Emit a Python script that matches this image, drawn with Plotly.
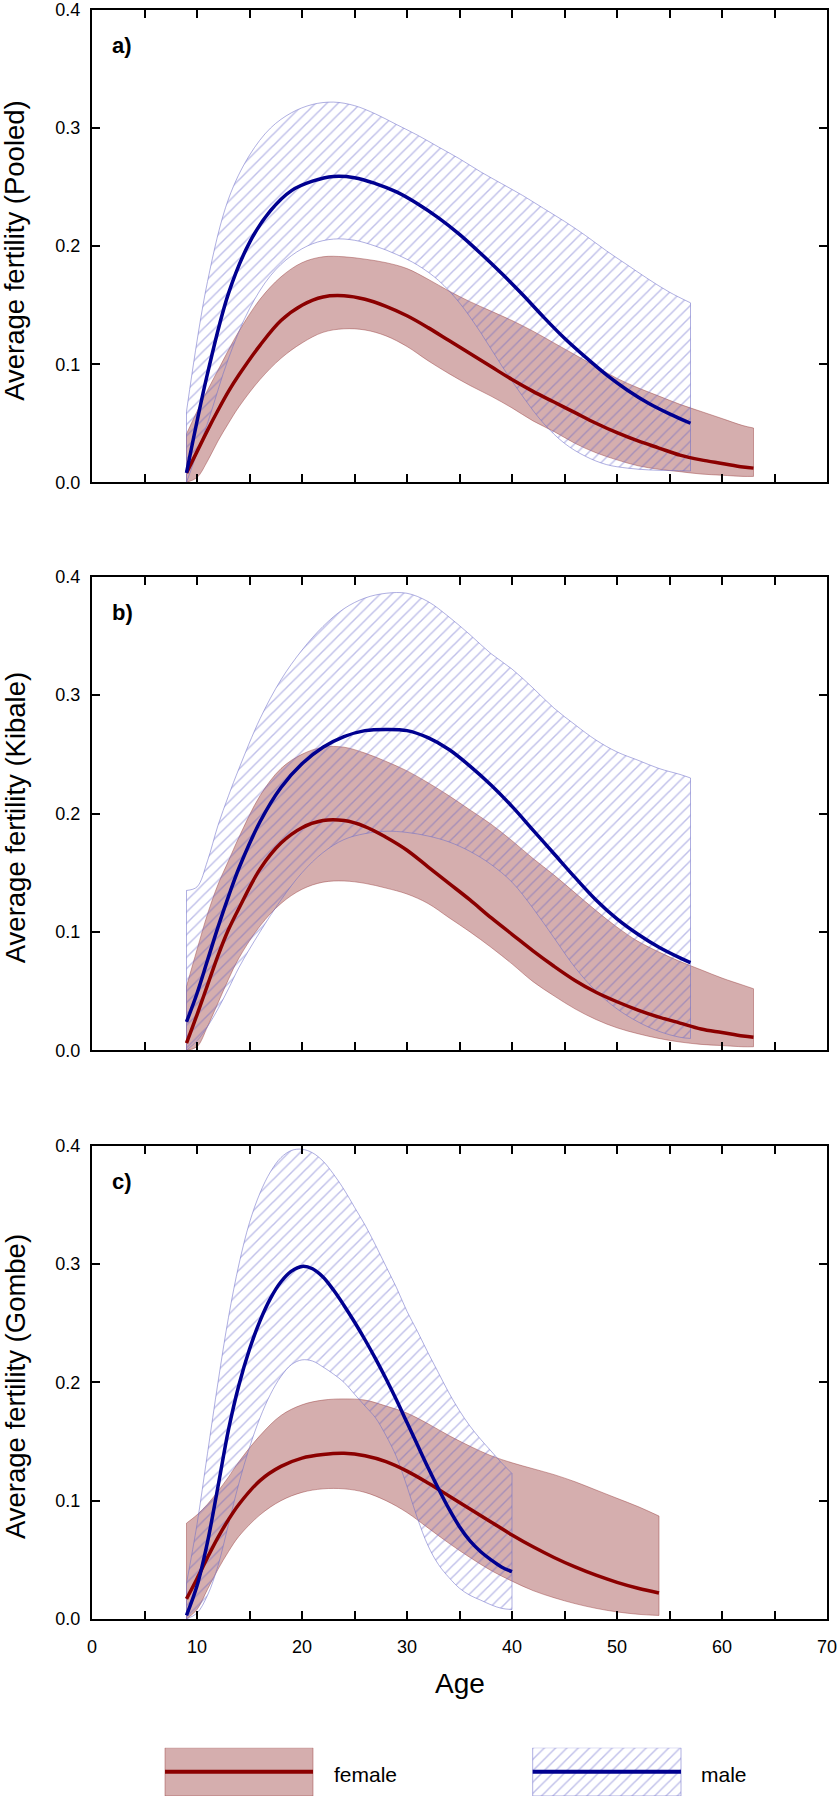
import plotly.graph_objects as go

# ---------------- data ----------------
# Panel a) Pooled
a_f_age = [9, 10, 11, 12, 13, 14, 16, 18, 20, 22, 24, 26, 28, 30, 32, 34, 36, 38, 40, 42, 44, 46, 48, 50, 52, 54, 56, 58, 60, 62, 63]
a_f_mean = [0.008, 0.026, 0.044, 0.061, 0.077, 0.091, 0.116, 0.137, 0.150, 0.157, 0.158, 0.155, 0.149, 0.141, 0.131, 0.120, 0.109, 0.098, 0.087, 0.077, 0.068, 0.059, 0.050, 0.042, 0.035, 0.029, 0.023, 0.019, 0.016, 0.013, 0.012]
a_f_up = [0.041, 0.06, 0.078, 0.095, 0.112, 0.128, 0.155, 0.174, 0.186, 0.191, 0.191, 0.189, 0.186, 0.181, 0.172, 0.162, 0.153, 0.145, 0.137, 0.128, 0.118, 0.108, 0.098, 0.088, 0.080, 0.073, 0.066, 0.060, 0.054, 0.048, 0.046]
a_f_lo = [0.0, 0.004, 0.018, 0.035, 0.05, 0.064, 0.087, 0.105, 0.118, 0.127, 0.130, 0.129, 0.124, 0.115, 0.103, 0.092, 0.082, 0.073, 0.063, 0.052, 0.043, 0.033, 0.025, 0.019, 0.014, 0.011, 0.009, 0.007, 0.006, 0.005, 0.005]

a_m_age = [9, 11, 13, 15, 17, 19, 21, 23, 25, 27, 29, 31, 33, 35, 37, 39, 41, 43, 45, 47, 49, 51, 53, 55, 57]
a_m_mean = [0.008, 0.092, 0.16, 0.203, 0.23, 0.247, 0.255, 0.259, 0.258, 0.253, 0.246, 0.236, 0.224, 0.21, 0.194, 0.177, 0.159, 0.14, 0.122, 0.106, 0.091, 0.078, 0.067, 0.058, 0.050]
a_m_up = [0.06, 0.17, 0.24, 0.277, 0.3, 0.313, 0.32, 0.322, 0.319, 0.312, 0.303, 0.294, 0.284, 0.274, 0.263, 0.253, 0.243, 0.232, 0.221, 0.209, 0.196, 0.184, 0.172, 0.161, 0.152]
a_m_lo = [0.0, 0.05, 0.105, 0.147, 0.175, 0.192, 0.202, 0.206, 0.205, 0.2, 0.193, 0.184, 0.171, 0.152, 0.127, 0.099, 0.073, 0.05, 0.033, 0.022, 0.015, 0.012, 0.0105, 0.010, 0.0096]

# Panel b) Kibale
b_f_age = [9, 10, 11, 12, 13, 14, 16, 18, 20, 22, 24, 26, 28, 30, 32, 34, 36, 38, 40, 42, 44, 46, 48, 50, 52, 54, 56, 58, 60, 62, 63]
b_f_mean = [0.006, 0.03, 0.055, 0.08, 0.102, 0.12, 0.153, 0.175, 0.188, 0.194, 0.194, 0.189, 0.180, 0.169, 0.155, 0.141, 0.127, 0.112, 0.098, 0.084, 0.071, 0.059, 0.049, 0.041, 0.034, 0.028, 0.023, 0.018, 0.015, 0.012, 0.011]
b_f_up = [0.054, 0.085, 0.115, 0.14, 0.16, 0.18, 0.215, 0.238, 0.25, 0.256, 0.256, 0.251, 0.244, 0.236, 0.226, 0.215, 0.203, 0.191, 0.177, 0.162, 0.148, 0.133, 0.118, 0.104, 0.092, 0.083, 0.075, 0.068, 0.061, 0.055, 0.052]
b_f_lo = [0.0, 0.003, 0.02, 0.04, 0.06, 0.078, 0.105, 0.124, 0.136, 0.142, 0.143, 0.141, 0.137, 0.132, 0.124, 0.112, 0.100, 0.087, 0.073, 0.058, 0.046, 0.035, 0.026, 0.019, 0.014, 0.010, 0.007, 0.005, 0.004, 0.003, 0.003]

b_m_age = [9, 10, 11, 12, 13, 14, 16, 18, 20, 22, 24, 26, 28, 30, 32, 34, 36, 38, 40, 42, 44, 46, 48, 50, 52, 54, 56, 57]
b_m_mean = [0.024, 0.048, 0.076, 0.104, 0.13, 0.154, 0.193, 0.222, 0.242, 0.256, 0.265, 0.27, 0.271, 0.27, 0.264, 0.254, 0.24, 0.224, 0.206, 0.186, 0.166, 0.146, 0.127, 0.111, 0.098, 0.087, 0.078, 0.074]
b_m_up = [0.135, 0.138, 0.16, 0.19, 0.215, 0.238, 0.28, 0.313, 0.338, 0.358, 0.373, 0.382, 0.386, 0.386, 0.379, 0.366, 0.351, 0.335, 0.322, 0.306, 0.289, 0.275, 0.262, 0.252, 0.245, 0.238, 0.233, 0.23]
b_m_lo = [0.0, 0.008, 0.02, 0.035, 0.052, 0.07, 0.1, 0.127, 0.15, 0.167, 0.178, 0.183, 0.185, 0.184, 0.181, 0.176, 0.168, 0.157, 0.142, 0.12, 0.095, 0.07, 0.05, 0.035, 0.024, 0.016, 0.011, 0.010]

# Panel c) Gombe
c_f_age = [9, 10, 11, 12, 13, 14, 16, 18, 20, 22, 24, 26, 28, 30, 32, 34, 36, 38, 40, 42, 44, 46, 48, 50, 52, 54]
c_f_mean = [0.017, 0.034, 0.052, 0.069, 0.084, 0.097, 0.117, 0.129, 0.136, 0.139, 0.140, 0.138, 0.133, 0.125, 0.115, 0.104, 0.093, 0.082, 0.071, 0.061, 0.052, 0.044, 0.037, 0.031, 0.026, 0.022]
c_f_up = [0.081, 0.088, 0.097, 0.108, 0.12, 0.133, 0.155, 0.172, 0.181, 0.185, 0.186, 0.185, 0.180, 0.174, 0.165, 0.155, 0.146, 0.138, 0.132, 0.127, 0.122, 0.116, 0.109, 0.102, 0.095, 0.087]
c_f_lo = [0.0, 0.008, 0.025, 0.042, 0.057, 0.07, 0.088, 0.1, 0.107, 0.11, 0.11, 0.107, 0.100, 0.090, 0.077, 0.064, 0.052, 0.041, 0.032, 0.024, 0.018, 0.013, 0.009, 0.006, 0.004, 0.003]

c_m_age = [9, 10, 11, 12, 13, 14, 15, 16, 17, 18, 19, 20, 21, 22, 23, 24, 25, 26, 27, 28, 29, 30, 31, 32, 33, 34, 35, 36, 37, 38, 39, 40]
c_m_mean = [0.003, 0.028, 0.065, 0.112, 0.16, 0.198, 0.228, 0.252, 0.271, 0.285, 0.294, 0.298, 0.296, 0.289, 0.278, 0.265, 0.251, 0.236, 0.22, 0.203, 0.185, 0.166, 0.147, 0.128, 0.11, 0.093, 0.078, 0.066, 0.057, 0.05, 0.044, 0.04]
c_m_up = [0.03, 0.08, 0.14, 0.2, 0.255, 0.3, 0.335, 0.36, 0.378, 0.39, 0.396, 0.397, 0.394, 0.387, 0.376, 0.363, 0.348, 0.333, 0.316, 0.298, 0.28, 0.26, 0.243, 0.225, 0.208, 0.191, 0.176, 0.163, 0.152, 0.142, 0.132, 0.123]
c_m_lo = [0.0, 0.005, 0.02, 0.045, 0.08, 0.115, 0.145, 0.17, 0.19, 0.205, 0.215, 0.219, 0.218, 0.213, 0.207, 0.2, 0.19, 0.18, 0.17, 0.155, 0.137, 0.112, 0.085, 0.062, 0.046, 0.035, 0.026, 0.02, 0.016, 0.012, 0.009, 0.008]

panel_labels = ["a)", "b)", "c)"]
y_titles = ["Average fertility (Pooled)", "Average fertility (Kibale)", "Average fertility (Gombe)"]
x_tickvals = [0, 5, 10, 15, 20, 25, 30, 35, 40, 45, 50, 55, 60, 65, 70]
x_ticktext = ["0", "", "10", "", "20", "", "30", "", "40", "", "50", "", "60", "", "70"]
y_tickvals = [0.0, 0.1, 0.2, 0.3, 0.4]
y_ticktext = ["0.0", "0.1", "0.2", "0.3", "0.4"]
legend_names = ["female", "male"]

# ---------------- styles ----------------
RED = "#8b0000"
BLUE = "#000090"
PINK_FILL = "rgba(160,70,70,0.44)"
PINK_EDGE = "rgba(150,60,60,0.45)"
HATCH = "rgba(95,95,200,0.8)"
HATCH_EDGE = "rgba(110,110,200,0.55)"
FONT = "Liberation Sans, Arial, Helvetica, sans-serif"

fig = go.Figure()

panels = [
    (a_f_age, a_f_mean, a_f_up, a_f_lo, a_m_age, a_m_mean, a_m_up, a_m_lo),
    (b_f_age, b_f_mean, b_f_up, b_f_lo, b_m_age, b_m_mean, b_m_up, b_m_lo),
    (c_f_age, c_f_mean, c_f_up, c_f_lo, c_m_age, c_m_mean, c_m_up, c_m_lo),
]

HATCH_PATTERN = dict(shape="/", fgcolor=HATCH, bgcolor="rgba(0,0,0,0)", size=8, solidity=0.18)


def band(fig, age, up, lo, xa, ya, kind):
    if kind == "f":
        edge = PINK_EDGE
        fill_kw = dict(fillcolor=PINK_FILL)
    else:
        edge = HATCH_EDGE
        fill_kw = dict(fillcolor="rgba(0,0,0,0)", fillpattern=HATCH_PATTERN)
    fig.add_trace(go.Scatter(x=age, y=lo, mode="lines", line=dict(color=edge, width=1, shape="spline"),
                             xaxis=xa, yaxis=ya, showlegend=False, hoverinfo="skip"))
    fig.add_trace(go.Scatter(x=age, y=up, mode="lines", line=dict(color=edge, width=1, shape="spline"),
                             fill="tonexty", xaxis=xa, yaxis=ya, showlegend=False, hoverinfo="skip",
                             **fill_kw))
    # closing vertical edges at the ends of the band
    for i in (0, -1):
        fig.add_trace(go.Scatter(x=[age[i], age[i]], y=[lo[i], up[i]], mode="lines",
                                 line=dict(color=edge, width=1), xaxis=xa, yaxis=ya,
                                 showlegend=False, hoverinfo="skip"))


for k, (fa, fm, fu, fl, ma, mm, mu, ml) in enumerate(panels):
    xa = "x" if k == 0 else f"x{k+1}"
    ya = "y" if k == 0 else f"y{k+1}"
    band(fig, fa, fu, fl, xa, ya, "f")
    band(fig, ma, mu, ml, xa, ya, "m")
    fig.add_trace(go.Scatter(x=fa, y=fm, mode="lines", line=dict(color=RED, width=3.5, shape="spline"),
                             xaxis=xa, yaxis=ya, showlegend=False, name="female"))
    fig.add_trace(go.Scatter(x=ma, y=mm, mode="lines", line=dict(color=BLUE, width=3.5, shape="spline"),
                             xaxis=xa, yaxis=ya, showlegend=False, name="male"))

# ---------------- legend (drawn on a hidden axis) ----------------
leg_boxes = [(165, 313), (532.7, 681)]
for (x0, x1), kind in zip(leg_boxes, ["f", "m"]):
    if kind == "f":
        fkw = dict(fillcolor=PINK_FILL)
        edge = PINK_EDGE
        lc = RED
    else:
        fkw = dict(fillcolor="rgba(0,0,0,0)", fillpattern=HATCH_PATTERN)
        edge = HATCH_EDGE
        lc = BLUE
    fig.add_trace(go.Scatter(x=[x0, x1, x1, x0, x0], y=[0, 0, 1, 1, 0], mode="lines", fill="toself",
                             line=dict(color=edge, width=1), xaxis="x4", yaxis="y4",
                             showlegend=False, hoverinfo="skip", **fkw))
    fig.add_trace(go.Scatter(x=[x0, x1], y=[0.5, 0.5], mode="lines", line=dict(color=lc, width=4),
                             xaxis="x4", yaxis="y4", showlegend=False, hoverinfo="skip"))

# ---------------- layout ----------------
H = 1800.0
T = 10.0
PH = H - T  # plot area height (margin b = 0)


def f(px):
    return (H - px) / PH


y_domains = [[f(482.3), f(10)], [f(1050.3), f(576.7)], [f(1619), f(1145.7)]]

axis_common = dict(showline=True, linecolor="black", linewidth=2, mirror="ticks", ticks="inside",
                   ticklen=8, tickwidth=1.5, tickcolor="black", showgrid=False, zeroline=False,
                   tickfont=dict(family=FONT, size=18, color="black"))

layout = dict(width=840, height=1800, margin=dict(l=92, r=13, t=10, b=0, autoexpand=False),
              paper_bgcolor="white", plot_bgcolor="rgba(0,0,0,0)",
              font=dict(family=FONT, color="black"), showlegend=False)

for k in range(3):
    xn = "xaxis" if k == 0 else f"xaxis{k+1}"
    yn = "yaxis" if k == 0 else f"yaxis{k+1}"
    anchor_y = "y" if k == 0 else f"y{k+1}"
    anchor_x = "x" if k == 0 else f"x{k+1}"
    layout[xn] = dict(axis_common, domain=[0, 1], anchor=anchor_y, range=[0, 70],
                      tickmode="array", tickvals=x_tickvals, ticktext=x_ticktext,
                      showticklabels=(k == 2), ticklabelstandoff=10, automargin=False)
    layout[yn] = dict(axis_common, domain=y_domains[k], anchor=anchor_x, range=[0, 0.4],
                      tickmode="array", tickvals=y_tickvals, ticktext=y_ticktext,
                      ticklabelstandoff=6, automargin=False)

layout["xaxis4"] = dict(domain=[0, 1], anchor="y4", range=[92, 827], visible=False, fixedrange=True)
layout["yaxis4"] = dict(domain=[f(1796), f(1747.7)], anchor="x4", range=[0, 1], visible=False, fixedrange=True)

annotations = []
for k in range(3):
    yr = "y domain" if k == 0 else f"y{k+1} domain"
    xr = "x domain" if k == 0 else f"x{k+1} domain"
    annotations.append(dict(text=y_titles[k], textangle=-90, xref="paper", yref=yr,
                            x=(15 - 92) / 735, y=0.49, xanchor="center", yanchor="middle",
                            showarrow=False, font=dict(family=FONT, size=27.5, color="black")))
    annotations.append(dict(text=f"<b>{panel_labels[k]}</b>", xref=xr, yref=yr,
                            x=18 / 735, y=1 - 36 / 473, xanchor="left", yanchor="middle",
                            showarrow=False, font=dict(family=FONT, size=22, color="black")))
annotations.append(dict(text="Age", xref="paper", yref="paper", x=0.5, y=f(1683),
                        xanchor="center", yanchor="middle", showarrow=False,
                        font=dict(family=FONT, size=28, color="black")))
for name, xpx in zip(legend_names, [331.7, 699.3]):
    annotations.append(dict(text=name, xref="paper", yref="paper", x=(xpx - 92) / 735, y=f(1774),
                            xanchor="left", yanchor="middle", showarrow=False,
                            font=dict(family=FONT, size=21, color="black")))
layout["annotations"] = annotations

fig.update_layout(**layout)
fig.write_html("out.html", config={"displayModeBar": False},
               post_script="document.body.style.margin='0';document.body.style.padding='0';"
                           "document.body.style.overflow='hidden';")
